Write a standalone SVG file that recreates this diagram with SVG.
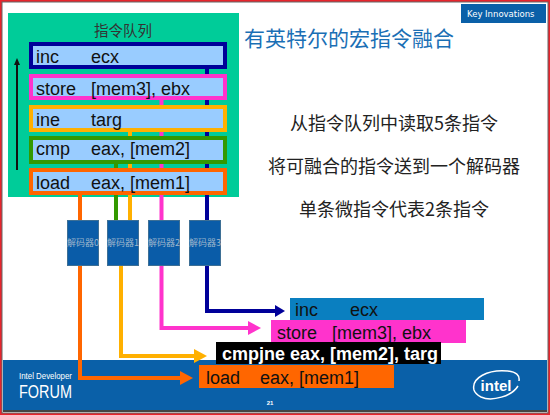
<svg xmlns="http://www.w3.org/2000/svg" width="550" height="415" viewBox="0 0 550 415">
<style>
.q{fill:#99ccff;stroke-width:4}
.t{font-family:"Liberation Sans",Arial,sans-serif;font-size:18px;fill:#111}
.cjk{font-family:"Noto Sans CJK SC",sans-serif}
.mid{font-size:18px;fill:#222;text-anchor:middle}
.dec{fill:#0a5ca8;stroke:#3d6f95;stroke-width:1}
.dt{font-size:9px;fill:#9fb6cc;text-anchor:middle}
.c{fill:none;stroke-width:4}
</style>
<rect x="0" y="0" width="550" height="415" fill="#e8242c"/>
<rect x="2" y="2" width="546" height="411" fill="#fff" stroke="#666" stroke-width="1"/>
<rect x="3" y="360" width="544" height="50" fill="#0a60a8"/>
<rect x="3" y="410" width="544" height="2" fill="#444"/>
<g id="key-innovations">
<rect x="461" y="4" width="85" height="19" fill="#0a60a8"/>
<text x="467" y="17" font-family="DejaVu Sans,sans-serif" font-size="8.500" fill="#fff">Key Innovations</text>
</g>
<g id="title"><text class="cjk" x="244" y="46" font-size="21" fill="#1a6fb5">有英特尔的宏指令融合</text></g>
<g id="notes">
<text class="cjk mid" x="394" y="130">从指令队列中读取5条指令</text>
<text class="cjk mid" x="394" y="173">将可融合的指令送到一个解码器</text>
<text class="cjk mid" x="394" y="216">单条微指令代表2条指令</text>
</g>
<g id="queue">
<rect x="8" y="13" width="231" height="184" fill="#00cc99"/>
<text class="cjk" x="123" y="36" font-size="14.500" fill="#333" text-anchor="middle">指令队列</text>
<path d="M17 170V63" stroke="#111" stroke-width="2" fill="none"/>
<path d="M17 58l-3 7h6z" fill="#111"/>
</g>
<g id="connectors">
<path class="c" stroke="#000099" d="M207 69V311H276"/>
<path d="M275 305L285 311L275 317Z" fill="#000099"/>
<path class="c" stroke="#ff33cc" d="M161.500 100V328H250"/>
<path d="M248 321L261 328L248 335Z" fill="#ff33cc"/>
<path class="c" stroke="#ffb000" d="M130 132V220M121 265V356H196"/>
<path d="M194 349L207 356L194 363Z" fill="#ffb000"/>
<path class="c" stroke="#339900" d="M116 164V220"/>
<path class="c" stroke="#ff6600" d="M80 195V378H182"/>
<path d="M180 371L193 378L180 385Z" fill="#ff6600"/>
</g>
<g id="inst-inc"><rect class="q" x="31" y="44" width="194" height="23" stroke="#000099"/><text class="t" x="36" y="63">inc</text><text class="t" x="91" y="63">ecx</text></g>
<g id="inst-store"><rect class="q" x="31" y="76" width="194" height="22" stroke="#ff33cc"/><text class="t" x="36" y="95">store</text><text class="t" x="91" y="95">[mem3], ebx</text></g>
<g id="inst-ine"><rect class="q" x="31" y="107" width="194" height="23" stroke="#ffb000"/><text class="t" x="36" y="126">ine</text><text class="t" x="91" y="126">targ</text></g>
<g id="inst-cmp"><rect class="q" x="31" y="138" width="194" height="24" stroke="#339900"/><text class="t" x="36" y="155">cmp</text><text class="t" x="91" y="155">eax, [mem2]</text></g>
<g id="inst-load"><rect class="q" x="31" y="170" width="194" height="23" stroke="#ff6600"/><text class="t" x="36" y="189">load</text><text class="t" x="91" y="189">eax, [mem1]</text></g>
<g id="decoder0"><rect class="dec" x="67.500" y="220.500" width="31" height="45"/><text class="cjk dt" x="83" y="246">解码器0</text></g>
<g id="decoder1"><rect class="dec" x="107.500" y="220.500" width="31" height="45"/><text class="cjk dt" x="123" y="246">解码器1</text></g>
<g id="decoder2"><rect class="dec" x="148.500" y="220.500" width="31" height="45"/><text class="cjk dt" x="164" y="246">解码器2</text></g>
<g id="decoder3"><rect class="dec" x="189.500" y="220.500" width="31" height="45"/><text class="cjk dt" x="205" y="246">解码器3</text></g>
<g id="out-inc"><rect x="290" y="298" width="194" height="22" fill="#0a7fc0"/><text class="t" x="295" y="316">inc</text><text class="t" x="350" y="316">ecx</text></g>
<g id="out-store"><rect x="271" y="320" width="195" height="23" fill="#ff33cc"/><text class="t" x="277" y="339">store</text><text class="t" x="332" y="339">[mem3], ebx</text></g>
<g id="out-cmpjne"><rect x="216" y="342" width="225" height="22" fill="#000"/><text x="222" y="360" font-family="Liberation Sans,sans-serif" font-weight="bold" font-size="18" fill="#fff">cmpjne eax, [mem2], targ</text></g>
<g id="out-load"><rect x="199" y="365" width="195" height="23" fill="#ff6600"/><text class="t" x="206" y="384">load</text><text class="t" x="260" y="384">eax, [mem1]</text></g>
<g id="forum">
<text x="19" y="379" font-family="Liberation Sans,sans-serif" font-size="9" fill="#fff" textLength="53" lengthAdjust="spacingAndGlyphs">Intel Developer</text>
<text x="19" y="398" font-family="Liberation Sans,sans-serif" font-size="18" fill="#fff" textLength="53" lengthAdjust="spacingAndGlyphs">FORUM</text>
</g>
<text x="270" y="405" font-family="Liberation Sans,sans-serif" font-size="6" font-weight="bold" fill="#fff" text-anchor="middle">21</text>
<g id="intel-logo">
<text x="496" y="391" font-family="Liberation Sans,sans-serif" font-size="15" font-weight="bold" fill="#fff" text-anchor="middle">intel</text>
<path d="M474 390C471 378 488 369 508 371C516 372 520 375 519 381M518 386C512 396 492 402 481 397C477 395 475 393 474 390" fill="none" stroke="#fff" stroke-width="1.500"/>
</g>
</svg>
